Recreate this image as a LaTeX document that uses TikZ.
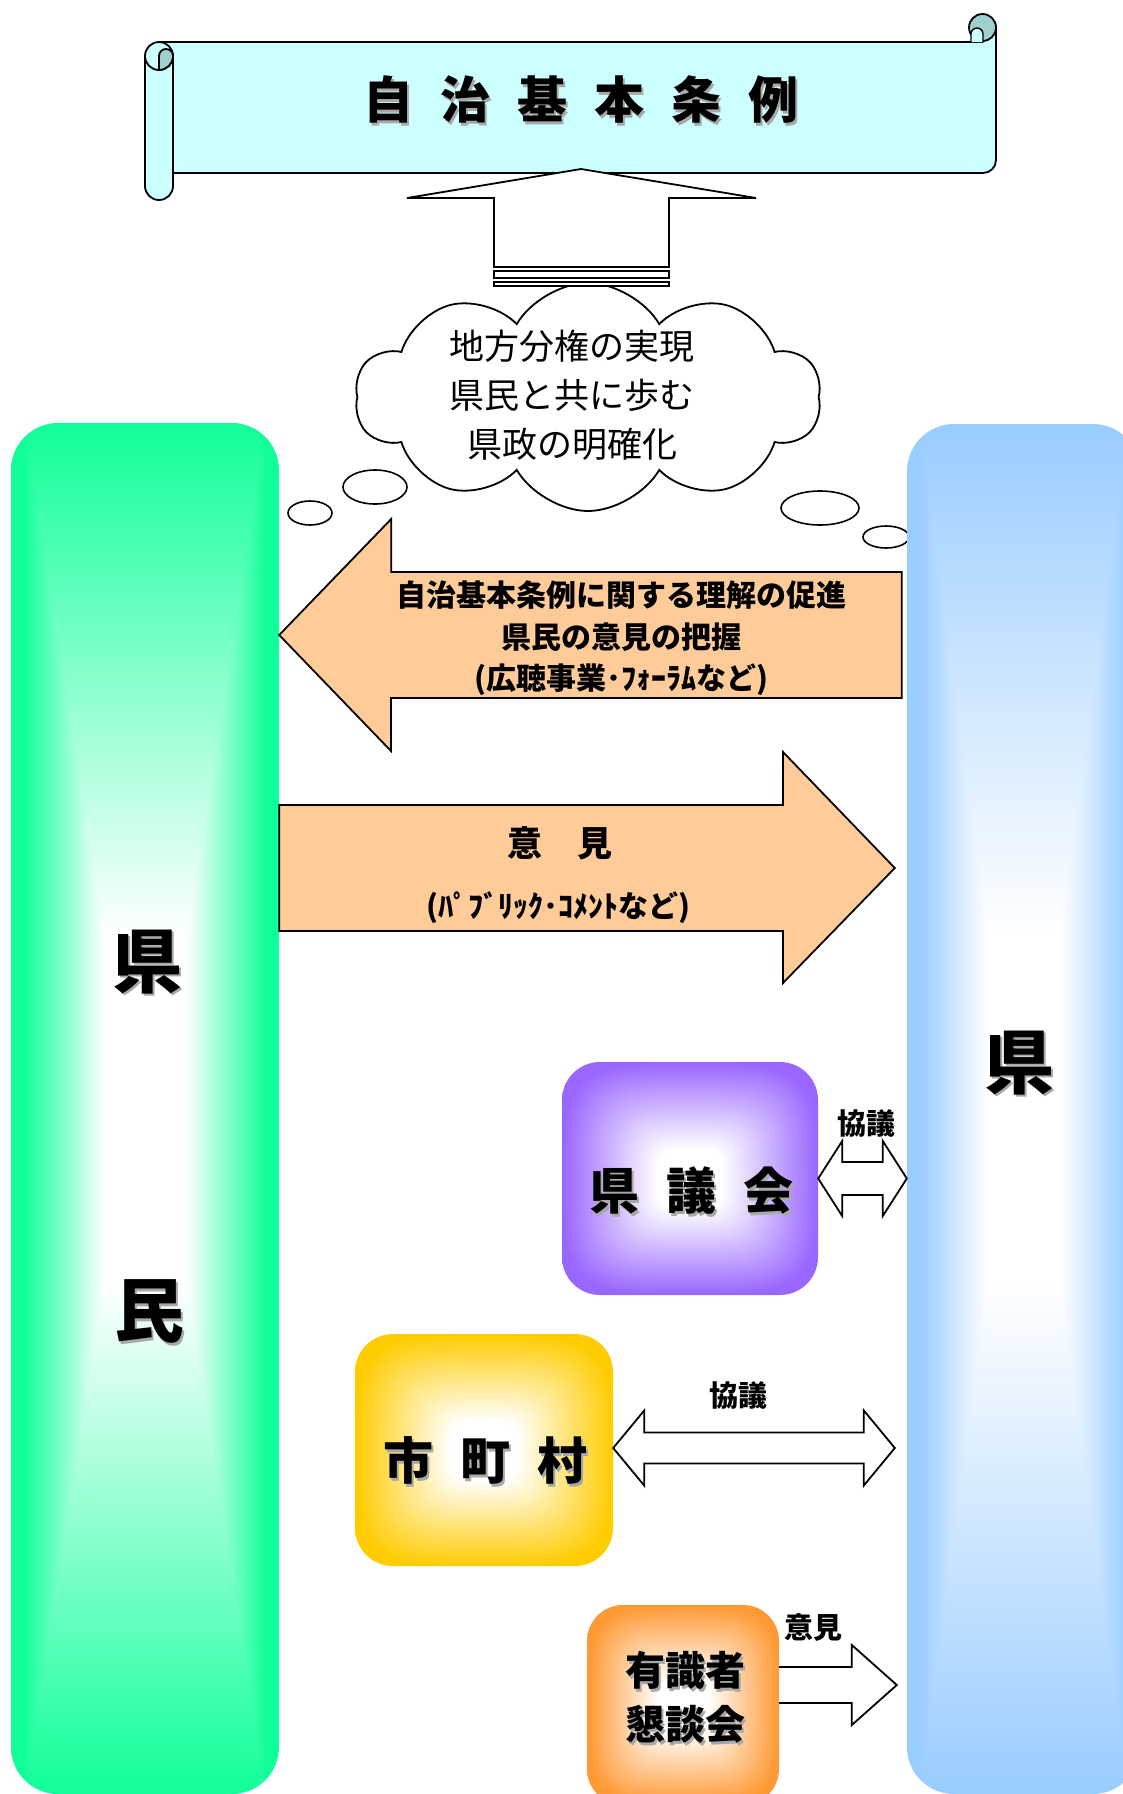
\documentclass[tikz,border=0pt]{standalone}
\usepackage{fontspec}
\setmainfont{Noto Sans CJK JP}
\usetikzlibrary{shapes.symbols,calc}
\definecolor{scrollC}{HTML}{CCFFFF}
\definecolor{scrollD}{HTML}{A0CFCF}
\definecolor{peach}{HTML}{FFCC99}
\definecolor{shadowgray}{HTML}{A8A8A8}
% column gradient: white centre band, edge colour given as (1-r,1-g,1-b)
\newcommand\mkcolshade[4]{%
  \pgfdeclarefunctionalshading{#1}{\pgfpoint{-50bp}{-50bp}}{\pgfpoint{50bp}{50bp}}{}{%
    abs 25 div 0.25 sub 0.75 div exch abs 25 div 0.3 sub 0.6 div 2 copy lt {exch} if pop
    dup 0 lt {pop 0} if dup 1 gt {pop 1} if
    dup dup #2 mul 1 exch sub 3 1 roll #3 mul 1 exch sub exch #4 mul 1 exch sub}}
% soft box gradient
\newcommand\mkboxshade[4]{%
  \pgfdeclarefunctionalshading{#1}{\pgfpoint{-50bp}{-50bp}}{\pgfpoint{50bp}{50bp}}{}{%
    25 div dup mul dup mul exch 25 div dup mul dup mul add sqrt sqrt
    0.25 sub 0.75 div dup 0 lt {pop 0} if dup 1 gt {pop 1} if
    dup dup #2 mul 1 exch sub 3 1 roll #3 mul 1 exch sub exch #4 mul 1 exch sub}}
\mkcolshade{rgreen}{0.933}{0}{0.4}
\mkcolshade{rblue}{0.4}{0.2}{0}
\mkboxshade{rpurple}{0.4}{0.6}{0}
\mkboxshade{rgold}{0}{0.2}{1}
\mkboxshade{rorange}{0}{0.4}{0.8}
\newcommand\shd[1]{\makebox[0pt][l]{\kern2.5pt\raisebox{-2.5pt}{\textcolor{shadowgray}{#1}}}#1}
\newcommand\widesp{\spaceskip 27pt\relax}
\begin{document}
\begin{tikzpicture}[x=1pt,y=-1pt,line join=miter,
  outl/.style={draw=black,line width=1.8pt},
  colbox/.style={rectangle,rounded corners=47pt,inner sep=0pt},
  gbox/.style={rectangle,rounded corners=38pt,inner sep=0pt},
  biglbl/.style={inner sep=0pt,font={\bfseries\fontsize{50}{60}\selectfont\widesp}},
  smlbl/.style={inner sep=0pt,font={\bfseries\fontsize{29}{35}\selectfont}},
  arrtxt/.style={inner sep=0pt,align=center,font={\bfseries\fontsize{30}{41.5}\selectfont}}]
\useasboundingbox (0,0) rectangle (1122,1794);

% ---- scroll banner ----
\path[outl,fill=scrollC] (159,42) -- (982.5,42) -- (982.5,27.5) -- (996,27.5) -- (996,160)
  arc[start angle=0,end angle=90,radius=13] -- (159,173) -- cycle;
\draw[outl,fill=scrollD] (982.5,27.5) circle (13.5pt);
\draw[line width=1.4pt,fill=scrollC] (971,42) -- (971,34) arc[start angle=180,end angle=360,radius=6] -- (983,42);
\draw[outl,fill=scrollC] (145,56) -- (145,186) arc[start angle=180,end angle=0,radius=14]
  -- (173,56) arc[start angle=0,end angle=-180,radius=14] -- cycle;
\draw[outl] (145,56) arc[start angle=180,end angle=0,radius=14];
\draw[outl,fill=scrollD] (159,70) -- (159,56) arc[start angle=180,end angle=360,radius=7]
  -- (173,56) arc[start angle=0,end angle=90,radius=14] -- cycle;
\node[biglbl] (title) at (580.5,101) {\shd{自 治 基 本 条 例}};

% ---- cloud ----
\node[cloud,cloud puffs=10,cloud puff arc=120,aspect=2.07,minimum width=466pt,minimum height=228pt,
  inner sep=0pt,outl,fill=white] (cloud) at (588,397) {};
\node[inner sep=0pt,align=center,font={\fontsize{35}{49}\selectfont}] (cloudtext) at (572,395)
  {地方分権の実現\\県民と共に歩む\\県政の明確化};
\draw[line width=1.6pt] (375,487) ellipse [x radius=32pt,y radius=17pt];
\draw[line width=1.6pt] (310,513) ellipse [x radius=22pt,y radius=12pt];
\draw[line width=1.6pt] (820,508) ellipse [x radius=39pt,y radius=17pt];
\draw[line width=1.6pt] (886,537) ellipse [x radius=23pt,y radius=11pt];

% ---- up arrow from cloud to banner ----
\draw[outl,fill=white] (581,169) -- (756,198) -- (669,198) -- (669,267) -- (494,267) -- (494,198) -- (407,198) -- cycle;
\draw[line width=1.6pt,fill=white] (494,271) rectangle (669,278);
\draw[line width=1.6pt,fill=white] (494,282) rectangle (669,286);

% ---- columns ----
\node[colbox,minimum width=268pt,minimum height=1371pt,shade,shading=rgreen] (kenmin) at (145,1108.5) {};
\node[colbox,minimum width=233pt,minimum height=1370pt,shade,shading=rblue] (ken) at (1023.5,1109) {};
\node[inner sep=0pt,font={\bfseries\fontsize{70}{80}\selectfont}] (kenminA) at (147,963) {\shd{県}};
\node[inner sep=0pt,font={\bfseries\fontsize{70}{80}\selectfont}] (kenminB) at (149,1313) {\shd{民}};
\node[inner sep=0pt,font={\bfseries\fontsize{70}{80}\selectfont}] (kenT) at (1019,1064) {\shd{県}};

% ---- big arrows ----
\coordinate (LAtip) at (kenmin.east |- 0,635);
\coordinate (LAend) at ($(ken.west |- 0,635)+(-5,0)$);
\draw[outl,fill=peach] (LAtip) -- ++(112,-116) -- ++(0,53) -- (LAend |- 0,572) -- (LAend |- 0,698)
  -- (391,698) -- (391,751) -- cycle;
\node[arrtxt] (msg1) at (621,638.5) {自治基本条例に関する理解の促進\\県民の意見の把握\\(広聴事業･ﾌｫｰﾗﾑなど)};

\coordinate (RAtail) at (kenmin.east |- 0,868);
\coordinate (RAtip) at ($(ken.west |- 0,868)+(-12,0)$);
\draw[outl,fill=peach] ($(RAtail)+(0,-63)$) -- (783,805) -- (783,752) -- (RAtip) -- (783,983) -- (783,931)
  -- ($(RAtail)+(0,63)$) -- cycle;
\node[inner sep=0pt,font={\bfseries\fontsize{35}{40}\selectfont}] (iken) at (560,843) {意　見};
\node[inner sep=0pt,font={\bfseries\fontsize{30}{34}\selectfont}] (pubcom) at (558,908) {(ﾊﾟﾌﾞﾘｯｸ･ｺﾒﾝﾄなど)};

% ---- prefectural assembly ----
\node[gbox,minimum width=256pt,minimum height=233pt,shade,shading=rpurple] (gikai) at (690,1178.5) {};
\node[biglbl] (gikaiT) at (691,1192) {\shd{県 議 会}};
\coordinate (G1) at (gikai.east);
\coordinate (G2) at (gikai.east -| ken.west);
\draw[outl,fill=white] (G1) -- ++(24,-37.5) -- ++(0,21) -- ($(G2)+(-24,-16.5)$) -- ++(0,-21) -- (G2)
  -- ++(-24,37.5) -- ++(0,-21) -- ($(G1)+(24,16.5)$) -- ++(0,21) -- cycle;
\node[smlbl] (kyogi1) at (866,1124) {協議};

% ---- municipalities ----
\node[gbox,minimum width=258pt,minimum height=232pt,shade,shading=rgold] (shichoson) at (484,1450) {};
\node[biglbl] (shichosonT) at (485,1462) {\shd{市 町 村}};
\coordinate (M1) at ($(shichoson.east)+(0,-2)$);
\coordinate (M2) at ($(M1 -| ken.west)+(-12,0)$);
\draw[outl,fill=white] (M1) -- ++(31,-37.5) -- ++(0,22) -- ($(M2)+(-31,-15.5)$) -- ++(0,-22) -- (M2)
  -- ++(-31,37.5) -- ++(0,-22) -- ($(M1)+(31,15.5)$) -- ++(0,22) -- cycle;
\node[smlbl] (kyogi2) at (738,1396) {協議};

% ---- experts' council ----
\node[gbox,rounded corners=36pt,minimum width=192pt,minimum height=200pt,shade,shading=rorange] (yushiki) at (683,1705) {};
\node[inner sep=0pt,align=center,font={\bfseries\fontsize{40}{54}\selectfont}] (yushikiT) at (685,1699) {\shd{有識者}\\\shd{懇談会}};
\coordinate (Y1) at ($(yushiki.east)+(0,-20)$);
\coordinate (Y2) at ($(Y1 -| ken.west)+(-10,0)$);
\fill[white] ($(Y1)+(0,-18)$) -- ($(Y2)+(-45,-18)$) -- ++(0,-22) -- (Y2) -- ++(-45,40) -- ++(0,-22) -- ($(Y1)+(0,18)$) -- cycle;
\draw[outl] ($(Y1)+(0,-18)$) -- ($(Y2)+(-45,-18)$) -- ++(0,-22) -- (Y2) -- ++(-45,40) -- ++(0,-22) -- ($(Y1)+(0,18)$);
\node[smlbl] (iken2) at (813,1628) {意見};
\end{tikzpicture}
\end{document}
